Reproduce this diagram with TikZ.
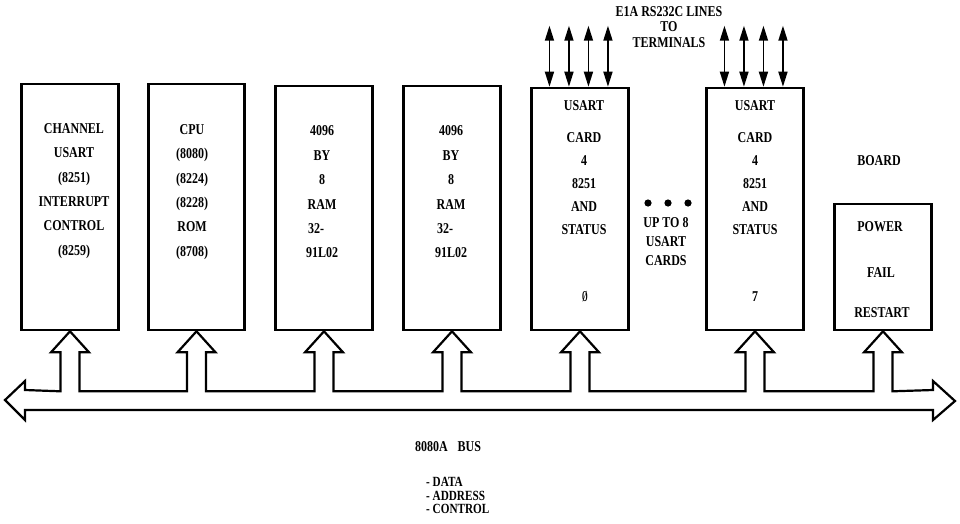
\documentclass[tikz,border=0pt]{standalone}
\usepackage{fontspec}
\usepackage{graphicx}
\newfontfamily\lbl{Liberation Serif}[FakeStretch=0.8]
\usetikzlibrary{arrows.meta,calc}
\begin{document}
\begin{tikzpicture}[x=1pt,y=-1pt,
  box/.style={draw,line width=2.6pt,minimum width=96.5pt,inner sep=0pt},
  txt/.style={font=\lbl\bfseries\fontsize{15}{24.4}\selectfont,align=center,inner sep=0pt},
  cardtxt/.style={font=\lbl\bfseries\fontsize{15}{23}\selectfont,align=center,inner sep=0pt},
  smalltxt/.style={font=\lbl\bfseries\fontsize{15}{19}\selectfont,align=center,inner sep=0pt},
  toptxt/.style={font=\lbl\bfseries\fontsize{15}{15.5}\selectfont,align=center,inner sep=0pt},
  bustxt/.style={font=\lbl\bfseries\fontsize{14}{13.5}\selectfont,align=left,inner sep=0pt},
  busline/.style={draw,line width=2.2pt,line join=miter},
  sig/.style={line width=1.6pt,{Triangle[length=15pt,width=9pt]}-{Triangle[length=15pt,width=9pt]}}]
\useasboundingbox (0,0) rectangle (960,523);
% boxes
\node[box,minimum height=246pt] (b1) at (70,207) {};
\node[box,minimum height=246pt] (b2) at (196.5,207) {};
\node[box,minimum height=244pt] (b3) at (324,208) {};
\node[box,minimum height=244pt] (b4) at (452,208) {};
\node[box,minimum height=242pt] (b5) at (580,209) {};
\node[box,minimum height=242pt] (b6) at (755,209) {};
\node[box,minimum height=126pt] (b7) at (883,267) {};
% box texts
\node[txt] (t1) at (74,191) {CHANNEL\\USART\\(8251)\\INTERRUPT\\CONTROL\\(8259)};
\node[txt] (t2) at (192,192) {CPU\\(8080)\\(8224)\\(8228)\\ROM\\(8708)};
\node[txt] (t3) at (322,192) {4096\\BY\\8\\RAM\\32-\hphantom{00}\\91L02};
\node[txt] (t4) at (451,192) {4096\\BY\\8\\RAM\\32-\hphantom{00}\\91L02};
\node[cardtxt] (t5) at (584,168) {USART\\[9pt]CARD\\4\\8251\\AND\\STATUS};
\node[cardtxt] (z5) at (585,297) {\scalebox{0.6}[1]{Ø}};
\node[cardtxt] (t6) at (755,168) {USART\\[9pt]CARD\\4\\8251\\AND\\STATUS};
\node[cardtxt] (z6) at (755,297) {7};
\node[txt] (p1) at (880,227) {POWER};
\node[txt] (p2) at (881,273) {FAIL};
\node[txt] (p3) at (882,313) {RESTART};
\node[txt] (board) at (879,161) {BOARD};
% dots and "up to 8"
\fill (648,203) circle (3.6pt);
\fill (668,203) circle (3.6pt);
\fill (688,203) circle (3.6pt);
\node[smalltxt] (upto) at (666,242) {UP TO 8\\USART\\CARDS};
% top label
\node[toptxt] (lines) at (669,27) {E1A RS232C LINES\\TO\\TERMINALS};
% RS232 lines
\foreach \b in {b5,b6}
  \foreach \dx in {19,38.5,58,77.5}
    \draw[sig] ($(\b.north west)+(\dx,0)$) -- ++(0,-61);
% bus
\draw[busline] (5,400) -- (25,381) -- (25,390)
  foreach \b in {b1,b2,b3,b4,b5,b6,b7} {
    -- ($(\b.south)+(-9.5,60)$) -- ($(\b.south)+(-9.5,21)$)
    -- ($(\b.south)+(-19,21)$) -- (\b.south) -- ($(\b.south)+(19,21)$)
    -- ($(\b.south)+(9.5,21)$) -- ($(\b.south)+(9.5,60)$)
  }
  -- (933,390) -- (933,381) -- (955,401) -- (933,420) -- (933,410)
  -- (25,410) -- (25,420) -- cycle;
% bus labels
\node[txt] (busname) at (448,447) {8080A\hspace{10pt}BUS};
\node[bustxt,anchor=west] (buslist) at (426,495.5) {- DATA\\- ADDRESS\\- CONTROL};
\end{tikzpicture}
\end{document}
